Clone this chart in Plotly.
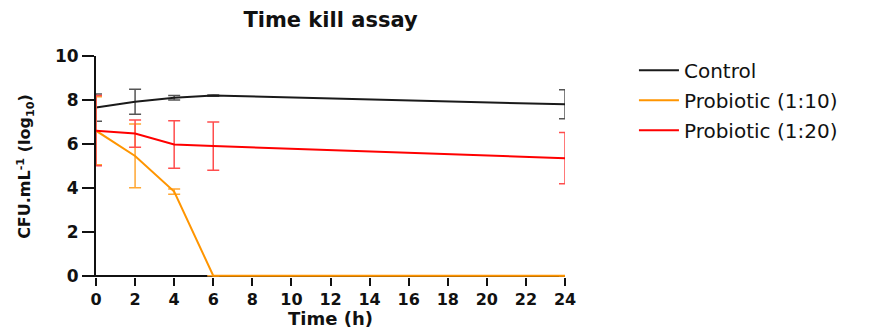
import plotly.graph_objects as go

time_h = [0, 2, 4, 6, 24]
series_names = ["Control", "Probiotic (1:10)", "Probiotic (1:20)"]
control = [7.65, 7.92, 8.10, 8.20, 7.80]
control_err = [0.62, 0.57, 0.10, 0.03, 0.66]
prob_1_10 = [6.60, 5.45, 3.83, 0.0, 0.0]
prob_1_10_err = [1.55, 1.45, 0.12, 0.0, 0.0]
prob_1_20 = [6.60, 6.47, 5.97, 5.90, 5.35]
prob_1_20_err = [1.60, 0.62, 1.08, 1.10, 1.17]
x_ticks = list(range(0, 25, 2))
y_ticks = [0, 2, 4, 6, 8, 10]
x_title = "Time (h)"

line_colors = ["#1a1a1a", "#ff9500", "#ff0000"]
err_colors = ["#555555", "#ffa733", "#ff4d4d"]
values = [control, prob_1_10, prob_1_20]
errs = [control_err, prob_1_10_err, prob_1_20_err]

FONT = "DejaVu Sans, Liberation Sans, Arial, sans-serif"
INK = "#111111"

fig = go.Figure()
for i, name in enumerate(series_names):
    fig.add_trace(go.Scatter(
        x=time_h, y=values[i], name=name, mode="lines",
        line=dict(color=line_colors[i], width=2),
        error_y=dict(type="data", array=errs[i], visible=True,
                     color=err_colors[i], thickness=1.5, width=6),
        cliponaxis=False, legendgroup=name,
    ))

# the page body has an 8px margin, so the figure is offset by (8, 8)
fig.update_layout(
    width=869, height=330,
    margin=dict(l=88, r=312, t=48, b=61, autoexpand=False),
    paper_bgcolor="white", plot_bgcolor="white",
    font=dict(family=FONT, color=INK),
    title=dict(text="<b>Time kill assay</b>", x=0.5, xref="paper", xanchor="center",
               y=1 - 12 / 330, yref="container", yanchor="middle",
               font=dict(size=21, family=FONT, color=INK)),
    showlegend=True,
    legend=dict(x=1.147, xanchor="left", y=1.024, yanchor="top",
                font=dict(size=20, family=FONT, color=INK),
                traceorder="grouped", tracegroupgap=1,
                itemwidth=40, bgcolor="rgba(0,0,0,0)"),
    annotations=[dict(text="<b>" + x_title + "</b>", xref="paper", yref="paper",
                      x=0.5, y=-0.186, xanchor="center", yanchor="middle",
                      showarrow=False, font=dict(size=18, family=FONT, color=INK))],
)
fig.update_xaxes(
    range=[0, 24], tickvals=x_ticks, ticktext=[str(t) for t in x_ticks],
    showgrid=False, zeroline=False, showline=False,
    ticks="outside", ticklen=8, tickwidth=2, tickcolor=INK,
    tickfont=dict(size=16, family=FONT, color=INK, weight="bold"),
    ticklabelstandoff=0,
    automargin=False,
)
fig.update_yaxes(
    range=[-0.06, 10], tickvals=y_ticks, ticktext=[str(t) for t in y_ticks],
    showgrid=False, zeroline=True, zerolinecolor=INK, zerolinewidth=2,
    showline=True, linecolor=INK, linewidth=2,
    ticks="outside", ticklen=12, tickwidth=2, tickcolor=INK,
    tickfont=dict(size=17, family=FONT, color=INK, weight="bold"),
    title=dict(text="<b>CFU.mL<sup>-1</sup> (log<sub>10</sub>)</b>",
               font=dict(size=16, family=FONT, color=INK), standoff=20),
    automargin=False, layer="below traces",
)

fig.write_html("out.html")
